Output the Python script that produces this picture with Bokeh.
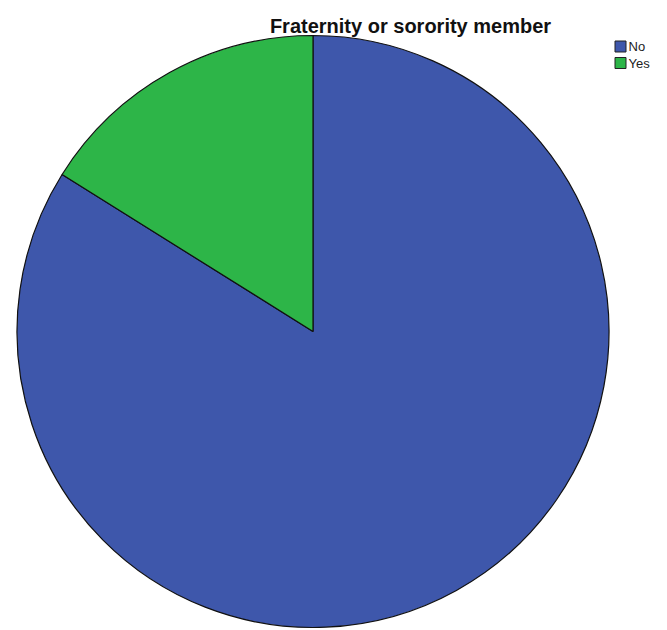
import numpy as np
from bokeh.plotting import figure
from bokeh.models import Range1d, ColumnDataSource
from bokeh.core.properties import value
from bokeh.embed import file_html
from bokeh.resources import INLINE

# Share of respondents (percent)
categories = ["No", "Yes"]
percents = [83.9, 16.1]
colors = ["#3E57AB", "#2DB548"]
title_text = "Fraternity or sorority member"

W, H = 667, 630
cx, cy, r = 312.5, H - 331.0, 296.0

# Slices run clockwise from 12 o'clock for "No"; "Yes" fills the rest
frac = np.array(percents) / sum(percents)
ang = frac * 2 * np.pi
start_top = np.pi / 2
ends = start_top - np.concatenate([[0], np.cumsum(ang)[:-1]])
starts = ends - ang

src = ColumnDataSource(dict(cat=categories, start=starts, end=ends, color=colors))

p = figure(width=W, height=H, output_backend="svg", toolbar_location=None,
           x_range=Range1d(0, W), y_range=Range1d(0, H), min_border=0)
p.axis.visible = False
p.grid.visible = False
p.outline_line_color = None

p.wedge(x=cx, y=cy, radius=r, start_angle="start", end_angle="end",
        fill_color="color", line_color="#111111", line_width=1.2, source=src)

# Title
p.text(x=[410], y=[H - 25.5], text=[title_text], text_align="center",
       text_baseline="alphabetic", text_font=value("Liberation Sans"),
       text_font_style="bold", text_font_size="20px", text_color="#111111")

# Legend swatches and labels
ly = H - np.array([46.0, 62.5])
p.rect(x=[620.0] * len(categories), y=ly, width=11, height=11,
       fill_color=colors, line_color="#222222", line_width=1)
p.text(x=[628.0] * len(categories), y=ly, text=categories, text_align="left",
       text_baseline="middle", text_font=value("Liberation Sans"),
       text_font_size="13px", text_color="#222222")

open("out.html", "w").write(file_html(p, INLINE))
